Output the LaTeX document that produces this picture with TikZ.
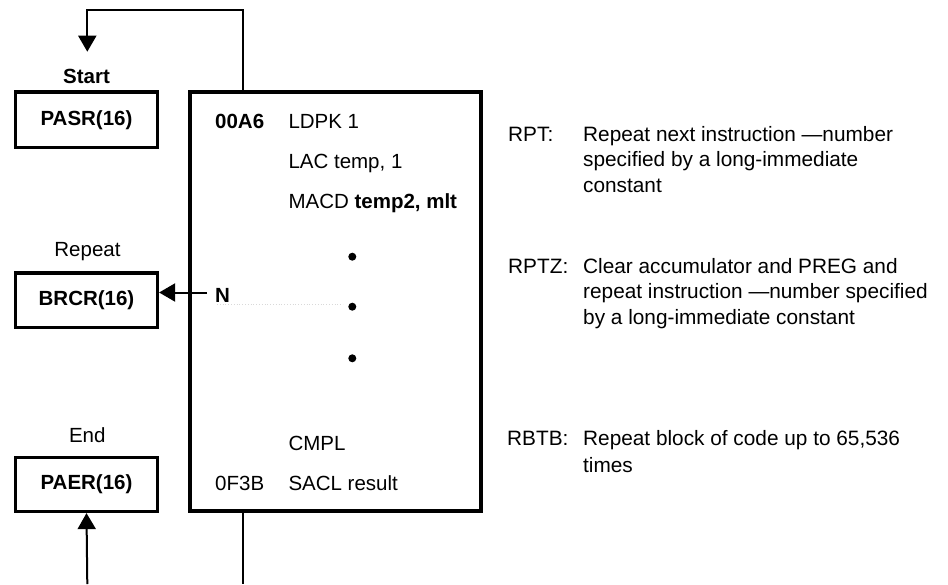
\documentclass[tikz,border=0pt]{standalone}
\usepackage{fontspec}
\setmainfont{Liberation Sans}
\usetikzlibrary{arrows.meta}
\begin{document}
\begin{tikzpicture}[x=1pt,y=-1pt,
  box/.style={draw, line width=3.2pt, minimum width=142pt, inner sep=0pt, font=\fontsize{20.5}{24}\selectfont\bfseries},
  lbl/.style={inner sep=0pt, anchor=base, font=\fontsize{20.5}{24}\selectfont},
  code/.style={inner sep=0pt, anchor=base west, font=\fontsize{20.5}{24}\selectfont},
  desc/.style={inner sep=0pt, anchor=base west, font=\fontsize{20.8}{24}\selectfont},
  conn/.style={line width=2pt},
  arr/.style={conn, -{Triangle[length=16pt,width=18pt]}},
  dotm/.style={circle, fill, inner sep=0pt, minimum size=8pt}
]
\useasboundingbox (0,0) rectangle (948,584);

% left boxes
\node[box, minimum height=55.5pt] (pasr) at (86.5,119.75) {PASR(16)};
\node[box, minimum height=54.5pt] (brcr) at (86.5,300.25) {BRCR(16)};
\node[box, minimum height=54pt] (paer) at (86.5,484.5) {PAER(16)};

\node[lbl, font=\fontsize{20.5}{24}\selectfont\bfseries] (start) at (86.5,83) {Start};
\node[lbl] (repeat) at (87.5,256.7) {Repeat};
\node[lbl] (end) at (87.3,442) {End};

% main box
\node[draw, line width=4pt, minimum width=290.5pt, minimum height=418.5pt, inner sep=0pt] (main) at (335.25,301.25) {};

\node[code, font=\fontsize{20.5}{24}\selectfont\bfseries] (a1) at (215,128.3) {00A6};
\node[code] (c1) at (288.3,128.3) {LDPK 1};
\node[code] (c2) at (288.3,168.3) {LAC temp, 1};
\node[code] (c3) at (288.3,208.3) {MACD \textbf{temp2, mlt}};
\node[code] (c4) at (288.3,450) {CMPL};
\node[code] (a2) at (215,490) {0F3B};
\node[code] (c5) at (288.3,490) {SACL result};

\node[dotm] (d1) at (352.3,256.7) {};
\node[dotm] (d2) at (352.3,306.7) {};
\node[dotm] (d3) at (352.3,358.3) {};

% N arrow
\node[code, font=\fontsize{20.5}{24}\selectfont\bfseries] (n) at (215,302.5) {N};
\coordinate (nstart) at (207,292.5);
\draw[arr] (nstart) -- (brcr.east |- nstart);
\draw[black!15, dotted, line width=0.8pt] (217,304) -- (343,304);

% loop connectors
\coordinate (lt) at (242.5,9.5);
\coordinate (lend) at (87.3,51.7);
\draw[arr] (main.north -| lt) -- (lt) -| (lend);

\coordinate (bl) at (87.3,584);
\draw[arr] (bl) -- (paer.south);
\coordinate (br) at (242.5,584);
\draw[conn] (main.south -| br) -- (br);

% descriptions
\node[desc] (rpt) at (508,141.7) {RPT:};
\node[desc] (rpt1) at (583,141.7) {Repeat next instruction —number};
\node[desc] (rpt2) at (583,166.9) {specified by a long-immediate};
\node[desc] (rpt3) at (583,192.1) {constant};

\node[desc] (rptz) at (508,273.4) {RPTZ:};
\node[desc] (rptz1) at (583,273.4) {Clear accumulator and PREG and};
\node[desc] (rptz2) at (583,298.9) {repeat instruction —number specified};
\node[desc] (rptz3) at (583,324.4) {by a long-immediate constant};

\node[desc] (rbtb) at (507,445.6) {RBTB:};
\node[desc] (rbtb1) at (583,445.6) {Repeat block of code up to 65,536};
\node[desc] (rbtb2) at (583,472.5) {times};
\end{tikzpicture}
\end{document}
